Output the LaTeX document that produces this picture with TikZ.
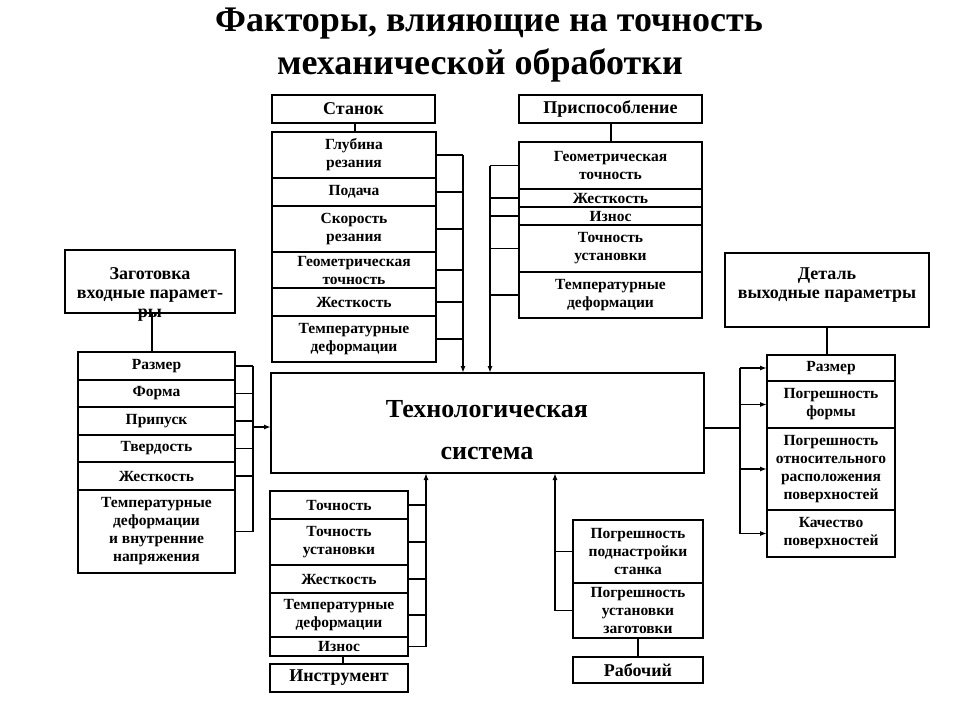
\documentclass[tikz,border=0pt]{standalone}
\usepackage{fontspec}
\setmainfont{Liberation Serif}
\usetikzlibrary{arrows.meta}
\newcommand{\cellbox}[7][]{\node[cell,#1,minimum width={(#5-#3)*1pt},minimum height={(#6-#4)*1pt}] (#2) at ({(#3+#5)/2},{(#4+#6)/2}) {#7};}
\begin{document}
\begin{tikzpicture}[x=1pt,y=-1pt,
  cell/.style={draw,line width=1.9pt,inner sep=0pt,outer sep=0pt,align=center,
    font=\bfseries\fontsize{15.5}{18}\selectfont},
  hdr/.style={font=\bfseries\fontsize{18}{19}\selectfont},
  conn/.style={line width=1.9pt},
  arr/.style={line width=1.9pt,-{Latex[length=7pt,width=5pt]}}]
\useasboundingbox[fill=white] (0,0) rectangle (960,720);
% title
\node[font=\bfseries\fontsize{36}{40}\selectfont] (title1) at (489,24) {Факторы, влияющие на точность};
\node[font=\bfseries\fontsize{36}{40}\selectfont] (title2) at (480,65) {механической обработки};
% system
\cellbox{sys}{271}{373}{704}{473}{}
\node[font=\bfseries\fontsize{26}{30}\selectfont] (sys1) at (487,409) {Технологическая};
\node[font=\bfseries\fontsize{26}{30}\selectfont] (sys2) at (487,453) {система};
% Станок
\cellbox[hdr]{hs}{272}{95}{435}{123}{Станок}
\cellbox{s1}{272}{132}{436}{178}{Глубина\\резания}
\cellbox{s2}{272}{178}{436}{206}{Подача}
\cellbox{s3}{272}{206}{436}{252}{Скорость\\резания}
\cellbox{s4}{272}{252}{436}{288}{Геометрическая\\точность}
\cellbox{s5}{272}{288}{436}{316}{Жесткость}
\cellbox{s6}{272}{316}{436}{362}{Температурные\\деформации}
\coordinate (sb) at (463,0);
\draw[conn] (hs.south -| 355,0) -- (s1.north -| 355,0);
\foreach \n in {s1,s2,s3,s4,s5,s6} \draw[conn] (\n.east) -- (\n.east -| sb);
\draw[arr] (s1.east -| sb) -- (sys.north -| sb);
% Приспособление
\cellbox[hdr]{hp}{519}{95}{702}{123}{Приспособление}
\cellbox{p1}{519}{142}{702}{189}{Геометрическая\\точность}
\cellbox{p2}{519}{189}{702}{207}{Жесткость}
\cellbox{p3}{519}{207}{702}{225}{Износ}
\cellbox{p4}{519}{225}{702}{272}{Точность\\установки}
\cellbox{p5}{519}{272}{702}{318}{Температурные\\деформации}
\coordinate (pb) at (490,0);
\draw[conn] (hp.south -| 611,0) -- (p1.north -| 611,0);
\foreach \n in {p1,p2,p3,p4,p5} \draw[conn] (\n.west) -- (\n.west -| pb);
\draw[arr] (p1.west -| pb) -- (sys.north -| pb);
% Заготовка
\cellbox{hz}{65}{250}{235}{313}{}
\node[hdr,align=center] (hzt) at (150,294) {Заготовка\\входные парамет-\\ры};
\cellbox{z1}{78}{352}{235}{380}{Размер}
\cellbox{z2}{78}{380}{235}{407}{Форма}
\cellbox{z3}{78}{407}{235}{435}{Припуск}
\cellbox{z4}{78}{435}{235}{462}{Твердость}
\cellbox{z5}{78}{462}{235}{490}{Жесткость}
\cellbox{z6}{78}{490}{235}{573}{Температурные\\деформации\\и внутренние\\напряжения}
\coordinate (zb) at (253,0);
\coordinate (zin) at (253,427);
\draw[conn] (hz.south -| 152,0) -- (z1.north -| 152,0);
\foreach \n in {z1,z2,z3,z4,z5,z6} \draw[conn] (\n.east) -- (\n.east -| zb);
\draw[conn] (z1.east -| zb) -- (z6.east -| zb);
\draw[arr] (zin) -- (sys.west |- zin);
% Деталь
\cellbox{hd}{725}{253}{929}{327}{}
\node[hdr,align=center] (hdt) at (827,285) {Деталь\\выходные параметры};
\cellbox{d1}{767}{355}{895}{381}{Размер}
\cellbox{d2}{767}{381}{895}{428}{Погрешность\\формы}
\cellbox{d3}{767}{428}{895}{510}{Погрешность\\относительного\\расположения\\поверхностей}
\cellbox{d4}{767}{510}{895}{557}{Качество\\поверхностей}
\coordinate (db) at (740,0);
\coordinate (dout) at (740,428);
\draw[conn] (hd.south -| 827,0) -- (d1.north -| 827,0);
\draw[conn] (sys.east |- dout) -- (dout);
\draw[conn] (d1.west -| db) -- (d4.west -| db);
\foreach \n in {d1,d2,d3,d4} \draw[arr] (\n.west -| db) -- (\n.west);
% Инструмент
\cellbox{i1}{270}{491}{408}{519}{Точность}
\cellbox{i2}{270}{519}{408}{565}{Точность\\установки}
\cellbox{i3}{270}{565}{408}{593}{Жесткость}
\cellbox{i4}{270}{593}{408}{637}{Температурные\\деформации}
\cellbox{i5}{270}{637}{408}{656}{Износ}
\cellbox[hdr]{hi}{270}{664}{408}{692}{Инструмент}
\coordinate (ib) at (426,0);
\draw[conn] (i5.south -| 343,0) -- (hi.north -| 343,0);
\foreach \n in {i1,i2,i3,i4,i5} \draw[conn] (\n.east) -- (\n.east -| ib);
\draw[arr] (i5.east -| ib) -- (sys.south -| ib);
% Рабочий
\cellbox{r1}{573}{520}{703}{583}{Погрешность\\поднастройки\\станка}
\cellbox{r2}{573}{583}{703}{638}{Погрешность\\установки\\заготовки}
\cellbox[hdr]{hr}{573}{657}{703}{683}{Рабочий}
\coordinate (rb) at (555,0);
\draw[conn] (r2.south -| 638,0) -- (hr.north -| 638,0);
\foreach \n in {r1,r2} \draw[conn] (\n.west) -- (\n.west -| rb);
\draw[arr] (r2.west -| rb) -- (sys.south -| rb);
\end{tikzpicture}
\end{document}
